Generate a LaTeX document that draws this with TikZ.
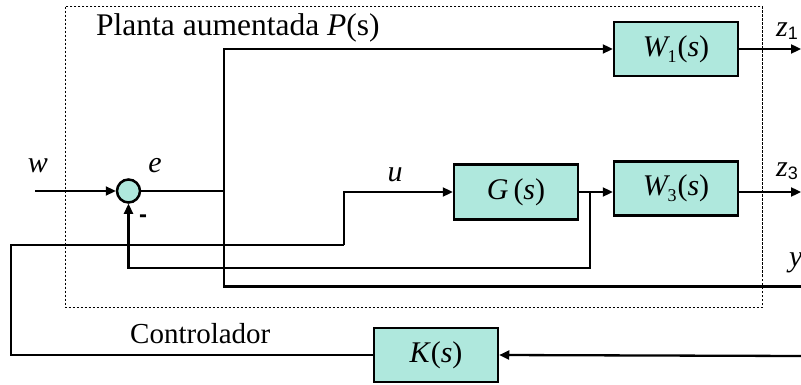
\documentclass[tikz,border=0pt]{standalone}
\usepackage{fontspec}
\setmainfont{Liberation Serif}
\newfontfamily\sansf{Liberation Sans}
\usetikzlibrary{arrows.meta}
\definecolor{boxfill}{RGB}{175,232,221}
\newcommand{\subd}[1]{\raisebox{-6pt}{\upshape\fontsize{18}{18}\selectfont #1}}
\newcommand{\zsub}[1]{\raisebox{-3pt}{\sansf\upshape\fontsize{18}{18}\selectfont #1}}
\begin{document}
\begin{tikzpicture}[x=1pt,y=-1pt,
  blk/.style={draw,line width=2.5pt,fill=boxfill,minimum width=124pt,minimum height=54pt,inner sep=0pt,font=\fontsize{30}{36}\selectfont},
  sumc/.style={draw,circle,line width=2.5pt,fill=boxfill,minimum size=23pt,inner sep=0pt},
  wire/.style={line width=2.3pt},
  arr/.style={wire,-{Triangle[length=10pt,width=9pt]}},
  lbl/.style={font=\fontsize{30}{36}\selectfont\itshape,inner sep=0pt},
  frame/.style={line width=1pt,dash pattern=on 2.5pt off 1.5pt}]
\useasboundingbox (0,0) rectangle (801,385);

\draw[frame] (65.7,6.7) rectangle (762,307.7);

\node[blk] (W1) at (676,49) {\textit{W}\kern-2.5pt\subd{1}\kern1pt(\textit{s})};
\node[blk] (W3) at (676,188.5) {\textit{W}\kern-2.5pt\subd{3}\kern1pt(\textit{s})};
\node[blk,minimum height=55pt] (G) at (516,192) {\textit{G}\,(\textit{s})};
\node[blk] (K) at (436,355) {\textit{K}(\textit{s})};
\node[sumc] (sum) at (128.5,191) {};

\coordinate (win) at (35,191);
\coordinate (j1) at (224,191);
\coordinate (yout) at (801,286.5);
\coordinate (z1e) at (801,50);
\coordinate (z3e) at (801,192);
\coordinate (j2) at (590,192);
\coordinate (fb) at (590,268);
\coordinate (c1) at (11,245);
\coordinate (c2) at (344,245);
\coordinate (kin) at (801,356);

\draw[arr] (win) -- (sum.west);
\draw[wire] (sum.east) -- (j1);
\draw[arr] (j1) |- (W1.west);
\draw[wire] (j1) |- (yout);
\draw[arr] (W1.east) -- (W1.east -| z1e);
\draw[arr] (c2) |- (G.west);
\draw[arr] (G.east) -- (G.east -| W3.west);
\draw[arr] (W3.east |- z3e) -- (z3e);
\draw[arr] (j2) -- (fb) -| (sum.south);
\draw[arr] (kin) -- (K.east);
\draw[wire] (K.west) -| (c1) -- (c2);

\node[lbl,anchor=base] (lw) at (38,173) {w};
\node[lbl,anchor=base] (le) at (155,173) {e};
\node[lbl,anchor=base] (lu) at (395,182) {u};
\node[lbl,anchor=base west] (lz1) at (776,37) {z\zsub{1}};
\node[lbl,anchor=base west] (lz3) at (776,177) {z\zsub{3}};
\node[lbl,anchor=base west] (ly) at (789,266) {y};
\node[anchor=base west,font=\fontsize{31.5}{36}\selectfont,inner sep=0pt] (title) at (96,36) {Planta aumentada \textit{P}(s)};
\node[anchor=base west,font=\fontsize{29}{36}\selectfont,inner sep=0pt] (ctrl) at (130,343) {Controlador};
\node[font=\sansf\bfseries\fontsize{24}{24}\selectfont,inner sep=0pt] (minus) at (143,219) {-};
\end{tikzpicture}
\end{document}
